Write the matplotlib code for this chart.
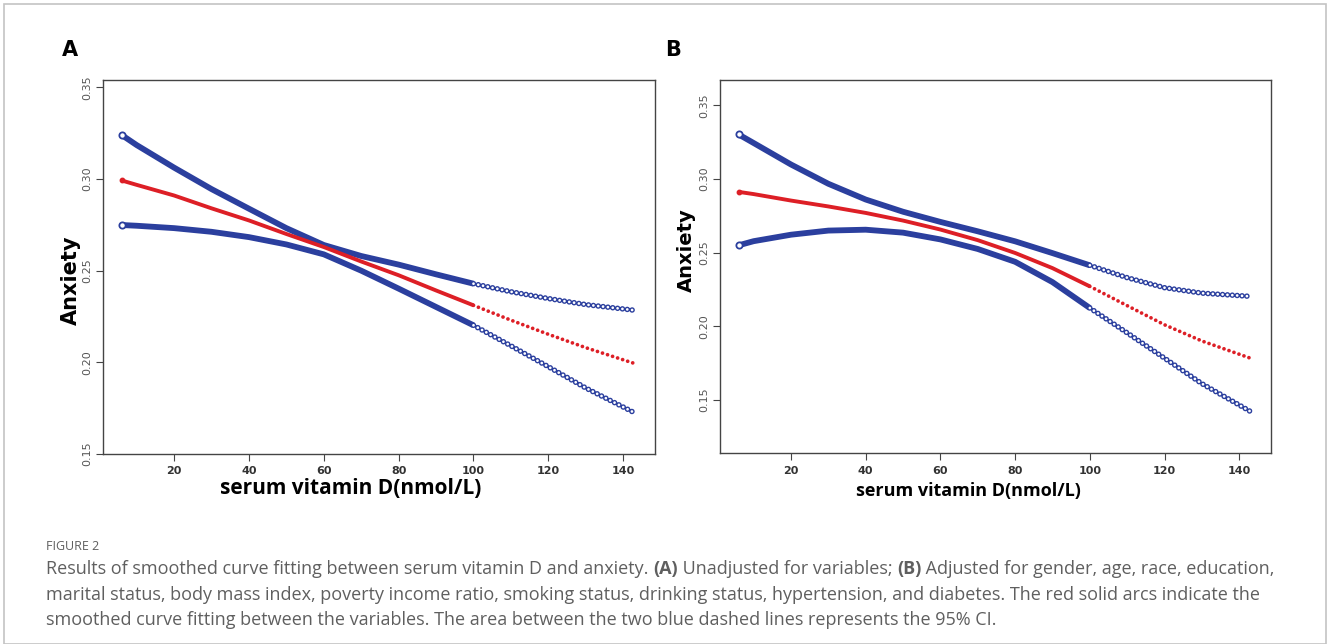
import numpy as np
import matplotlib
matplotlib.use("Agg")
import matplotlib.pyplot as plt

plt.rcParams['lines.scale_dashes'] = False
plt.rcParams['font.family'] = ['DejaVu Sans']

x_solid = np.array([6, 10, 20, 30, 40, 50, 60, 70, 80, 90, 100])
x_tail = np.array([100, 110, 120, 130, 143])

# Панель A (без поправок)
a_up = [0.3240, 0.3185, 0.3062, 0.2945, 0.2838, 0.2732, 0.2640, 0.2580, 0.2533, 0.2480, 0.2429]
a_up_tail = [0.2429, 0.2385, 0.2348, 0.2315, 0.2284]
a_mid = [0.2992, 0.2968, 0.2910, 0.2840, 0.2774, 0.2700, 0.2629, 0.2550, 0.2475, 0.2392, 0.2311]
a_mid_tail = [0.2311, 0.2230, 0.2153, 0.2080, 0.1994]
a_low = [0.2749, 0.2745, 0.2732, 0.2712, 0.2683, 0.2643, 0.2589, 0.2500, 0.2402, 0.2302, 0.2202]
a_low_tail = [0.2202, 0.2090, 0.1976, 0.1860, 0.1725]

# Панель B (с поправками)
b_up = [0.3303, 0.3245, 0.3099, 0.2968, 0.2861, 0.2778, 0.2709, 0.2645, 0.2577, 0.2497, 0.2414]
b_up_tail = [0.2414, 0.2330, 0.2262, 0.2225, 0.2203]
b_mid = [0.2913, 0.2898, 0.2854, 0.2814, 0.2770, 0.2718, 0.2657, 0.2585, 0.2498, 0.2395, 0.2271]
b_mid_tail = [0.2271, 0.2140, 0.2010, 0.1900, 0.1783]
b_low = [0.2550, 0.2578, 0.2622, 0.2650, 0.2656, 0.2636, 0.2590, 0.2525, 0.2438, 0.2300, 0.2124]
b_low_tail = [0.2124, 0.1955, 0.1783, 0.1610, 0.1421]

x_ticks = [20, 40, 60, 80, 100, 120, 140]
y_ticks = [0.15, 0.20, 0.25, 0.30, 0.35]

blue = '#2b3f9e'
red = '#dd1f26'

W, H = 1328, 644
fig = plt.figure(figsize=(W / 100, H / 100), dpi=100)


def px(x, y):
    return x / W, 1 - y / H


def ring_line(ax, x, y, color, size, gap, hollow):
    ax.plot(x, y, color=color, lw=size, dashes=(0.01, gap), dash_capstyle='round')
    if hollow:
        ax.plot(x, y, color='white', lw=size * 0.5, dashes=(0.01, gap), dash_capstyle='round')


def panel(rect, ylim, up, up_t, mid, mid_t, low, low_t):
    ax = fig.add_axes(rect)
    ax.plot(x_solid, up, color=blue, lw=4.2, solid_capstyle='butt', solid_joinstyle='round')
    ax.plot(x_solid, low, color=blue, lw=4.2, solid_capstyle='butt', solid_joinstyle='round')
    ax.plot(x_solid, mid, color=red, lw=2.8, solid_capstyle='butt', solid_joinstyle='round')
    ring_line(ax, x_tail, up_t, blue, 4.0, 3.5, True)
    ring_line(ax, x_tail, low_t, blue, 4.0, 3.5, True)
    ring_line(ax, x_tail, mid_t, red, 2.7, 3.8, False)
    for y in (up, low):
        ax.plot(x_solid[0], y[0], 'o', ms=4.5, mfc='white', mec=blue, mew=1.3)
    ax.plot(x_solid[0], mid[0], 'o', ms=3.2, color=red)
    ax.set_xlim(1, 148.5)
    ax.set_ylim(*ylim)
    ax.set_xticks(x_ticks)
    ax.set_yticks(y_ticks)
    ax.set_xticklabels([str(t) for t in x_ticks], fontsize=8, color='#333333', fontweight='bold')
    ax.set_yticklabels([f'{t:.2f}' for t in y_ticks], fontsize=8, color='#555555', rotation=90, va='center')
    ax.tick_params(length=5, width=0.8, color='#444444', pad=3)
    ax.tick_params(axis='x', pad=4)
    for s in ax.spines.values():
        s.set_color('#444444')
        s.set_linewidth(1.0)
    return ax


# ось A: пиксели 103..655 по x, 80..454 по y
axA = panel([103 / W, 1 - 454 / H, 552 / W, 374 / H], (0.15, 0.354),
            a_up, a_up_tail, a_mid, a_mid_tail, a_low, a_low_tail)
axB = panel([720 / W, 1 - 453 / H, 551 / W, 373 / H], (0.1139, 0.3673),
            b_up, b_up_tail, b_mid, b_mid_tail, b_low, b_low_tail)

# подписи панелей и осей
fig.text(*px(70, 50), 'A', fontsize=15, fontweight='bold', ha='center', va='center')
fig.text(*px(673, 50), 'B', fontsize=15, fontweight='bold', ha='center', va='center')
fig.text(*px(71, 280), 'Anxiety', fontsize=15, fontweight='bold', rotation=90, ha='center', va='center')
fig.text(*px(686, 250), 'Anxiety', fontsize=14, fontweight='bold', rotation=90, ha='center', va='center')
fig.text(*px(351, 489), 'serum vitamin D(nmol/L)', family='Open Sans', fontsize=15,
         fontweight='bold', ha='center', va='center')
fig.text(*px(968, 491), 'serum vitamin D(nmol/L)', family='Open Sans', fontsize=13,
         fontweight='bold', ha='center', va='center')

# рамка вокруг рисунка
fig.add_artist(plt.Rectangle((4 / W, 0), 1322 / W, 1 - 4 / H, transform=fig.transFigure,
                             fill=False, ec='#c4c4c4', lw=1.2))

# подпись рисунка
cap_color = '#5f5f5f'
fig.text(*px(46, 546), 'FIGURE 2', fontsize=9, color=cap_color, family='Open Sans',
         va='center')

lines = [
    [('Results of smoothed curve fitting between serum vitamin D and anxiety. ', 'normal'),
     ('(A)', 'bold'), (' Unadjusted for variables; ', 'normal'), ('(B)', 'bold'),
     (' Adjusted for gender, age, race, education,', 'normal')],
    [('marital status, body mass index, poverty income ratio, smoking status, drinking status, '
      'hypertension, and diabetes. The red solid arcs indicate the', 'normal')],
    [('smoothed curve fitting between the variables. The area between the two blue dashed '
      'lines represents the 95% CI.', 'normal')],
]
line_y = [569, 595, 620]

fig.canvas.draw()
renderer = fig.canvas.get_renderer()
for parts, yy in zip(lines, line_y):
    xpos = 46
    for txt, wt in parts:
        t = fig.text(*px(xpos, yy), txt, fontsize=13, color=cap_color, family='Open Sans',
                     fontweight=wt, va='center')
        bb = t.get_window_extent(renderer)
        xpos += bb.width

fig.savefig('out.png', dpi=100)
